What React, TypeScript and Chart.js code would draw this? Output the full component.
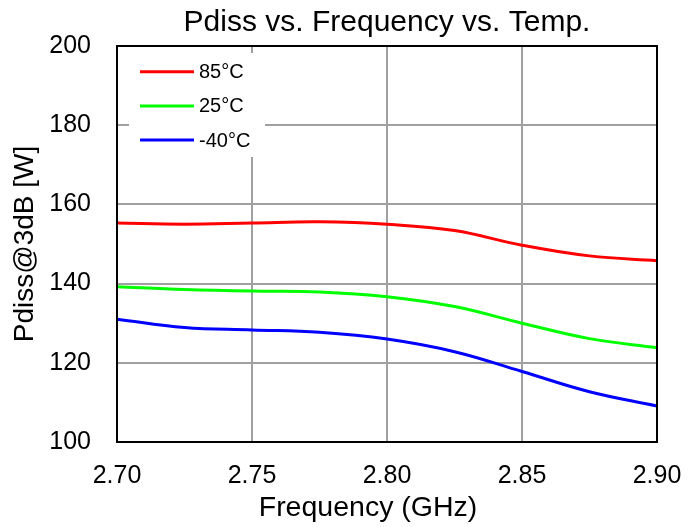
import React, { useEffect, useRef } from "react";
import { Chart, registerables } from "chart.js";

Chart.register(...registerables);

const chartTitle = "Pdiss vs. Frequency vs. Temp.";
const xTitle = "Frequency (GHz)";
const yTitle = "Pdiss@3dB [W]";

const frequency = [2.70, 2.725, 2.75, 2.775, 2.80, 2.825, 2.85, 2.875, 2.90];
const pdiss85 = [155.3, 155.0, 155.3, 155.6, 155.0, 153.4, 149.7, 147.0, 145.8];
const pdiss25 = [139.2, 138.5, 138.1, 137.9, 136.7, 134.2, 130.0, 126.1, 123.8];
const pdissM40 = [131.0, 128.9, 128.3, 127.7, 126.0, 122.8, 117.8, 112.7, 109.1];

const seriesLabels = ["85°C", "25°C", "-40°C"];
const seriesColors = ["#ff0000", "#00ff00", "#0000ff"];
const seriesValues = [pdiss85, pdiss25, pdissM40];

const xMin = 2.7;
const xMax = 2.9;
const xStep = 0.05;
const yMin = 100;
const yMax = 200;
const yStep = 20;

const FONT = "'Liberation Sans', Arial, sans-serif";

const framePlugin = {
  id: "frameAndLegend",
  afterDatasetsDraw(chart: any) {
    const { ctx, chartArea } = chart;
    const { left, top, right, bottom } = chartArea;
    ctx.save();
    // plot border
    ctx.strokeStyle = "#000";
    ctx.lineWidth = 2;
    ctx.strokeRect(left, top, right - left, bottom - top);

    // legend box inside plot
    const bx = left + 12;
    const by = top + 7;
    ctx.fillStyle = "#fff";
    ctx.fillRect(bx, by, 136, 104);
    chart.data.datasets.forEach((ds: any, i: number) => {
      const y = top + 25.7 + i * 34.2;
      ctx.strokeStyle = ds.borderColor;
      ctx.lineWidth = 3;
      ctx.beginPath();
      ctx.moveTo(left + 23, y);
      ctx.lineTo(left + 77, y);
      ctx.stroke();
      ctx.fillStyle = "#000";
      ctx.font = `20px ${FONT}`;
      ctx.textAlign = "left";
      ctx.textBaseline = "middle";
      ctx.fillText(ds.label, left + 82, y + 1);
    });

    // x axis title
    const xs = chart.scales.x;
    ctx.fillStyle = "#000";
    ctx.font = `28.5px ${FONT}`;
    ctx.textAlign = "center";
    ctx.textBaseline = "alphabetic";
    ctx.fillText(xTitle, (xs.left + xs.right) / 2 - 19, xs.bottom - 11);
    ctx.restore();
  },
};

export default function App() {
  const ref = useRef<HTMLCanvasElement | null>(null);

  useEffect(() => {
    if (!ref.current) return;
    const chart = new Chart(ref.current, {
      type: "line",
      data: {
        datasets: seriesLabels.map((label, i) => ({
          label,
          data: frequency.map((f, j) => ({ x: f, y: seriesValues[i][j] })),
          borderColor: seriesColors[i],
          backgroundColor: seriesColors[i],
          borderWidth: 3,
          pointRadius: 0,
          tension: 0.4,
          fill: false,
        })),
      },
      options: {
        responsive: false,
        animation: false,
        color: "#000",
        layout: { padding: { left: 0, right: 40, top: 0, bottom: 0 } },
        plugins: {
          legend: { display: false },
          tooltip: { enabled: false },
          title: {
            display: true,
            text: chartTitle,
            color: "#000",
            fullSize: false,
            font: { family: FONT, size: 30, weight: "normal" },
            padding: { top: 5, bottom: 5 },
          },
        },
        scales: {
          x: {
            type: "linear",
            min: xMin,
            max: xMax,
            afterFit: (s: any) => {
              s.height = 85;
              s.paddingLeft = 0;
              s.paddingRight = 0;
            },
            afterBuildTicks: (s: any) => {
              const t = [];
              for (let k = 0; k <= Math.round((xMax - xMin) / xStep); k++) {
                t.push({ value: +(xMin + k * xStep).toFixed(2) });
              }
              s.ticks = t;
            },
            ticks: {
              color: "#000",
              font: { family: FONT, size: 25 },
              padding: 19,
              maxRotation: 0,
              autoSkip: false,
              callback: (v: any) => Number(v).toFixed(2),
            },
            grid: { color: "#a0a0a0", lineWidth: 2, drawTicks: false },
            border: { display: false },
            title: { display: false },
          },
          y: {
            type: "linear",
            min: yMin,
            max: yMax,
            afterFit: (s: any) => {
              s.width = 117;
              s.paddingTop = 0;
              s.paddingBottom = 0;
            },
            ticks: {
              stepSize: yStep,
              color: "#000",
              font: { family: FONT, size: 25 },
              padding: 26,
            },
            grid: { color: "#a0a0a0", lineWidth: 2, drawTicks: false },
            border: { display: false },
            title: {
              display: true,
              text: yTitle,
              color: "#000",
              font: { family: FONT, size: 28 },
              padding: { top: 8, bottom: 0 },
            },
          },
        },
      },
      plugins: [framePlugin],
    });
    return () => chart.destroy();
  }, []);

  return (
    <div style={{ position: "fixed", left: 0, top: 0, width: 697, height: 527, background: "#fff" }}>
      <canvas ref={ref} width={697} height={527} />
    </div>
  );
}
